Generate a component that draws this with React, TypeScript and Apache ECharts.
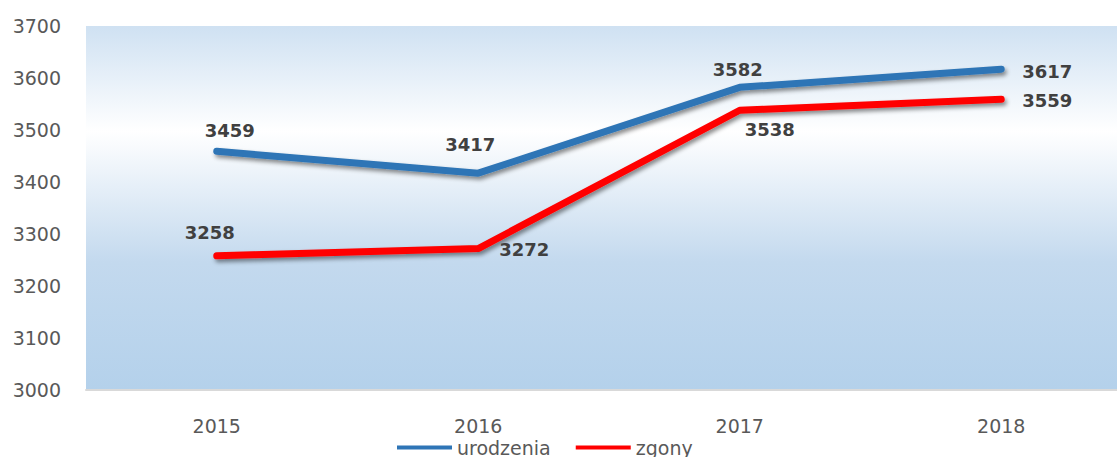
import React, { useEffect, useRef } from "react";
import * as echarts from "echarts";

const categories = ["2015", "2016", "2017", "2018"];
const urodzenia = [3459, 3417, 3582, 3617];
const zgony = [3258, 3272, 3538, 3559];
const yTicks = { min: 3000, max: 3700, interval: 100 };

// label offsets (style only)
const urodzeniaLabelOffsets = [[13, -21], [-8, -29], [-2, -18], [46, 2]];
const zgonyLabelOffsets = [[-7, -23], [46, 1], [30, 19], [46, 1]];

const labelStyle = {
  show: true,
  position: "inside",
  color: "#404040",
  fontFamily: "DejaVu Sans",
  fontWeight: "bold",
  fontSize: 18,
};

function build(values: number[], offsets: number[][]) {
  return values.map((v, i) => ({
    value: v,
    label: { ...labelStyle, offset: offsets[i] },
  }));
}

export default function App() {
  const ref = useRef<HTMLDivElement>(null);
  useEffect(() => {
    if (!ref.current) return;
    const chart = echarts.init(ref.current, undefined, { renderer: "svg" });
    const lineShadow = {
      shadowColor: "rgba(0,0,0,0.45)",
      shadowBlur: 4,
      shadowOffsetX: 2,
      shadowOffsetY: 3,
    };
    chart.setOption({
      animation: false,
      grid: {
        left: 86,
        width: 1046,
        top: 26,
        bottom: 67,
        outerBoundsMode: "none",
        containLabel: false,
        show: true,
        borderWidth: 0,
        backgroundColor: new echarts.graphic.LinearGradient(0, 0, 0, 1, [
          { offset: 0, color: "#cfe1f2" },
          { offset: 0.29, color: "#ffffff" },
          { offset: 0.65, color: "#c3d9ee" },
          { offset: 1, color: "#b4d1eb" },
        ]),
      },
      legend: {
        left: 392,
        top: 433,
        icon: "rect",
        itemWidth: 55,
        itemHeight: 4,
        itemGap: 25,
        textStyle: { color: "#595959", fontSize: 19, fontFamily: "DejaVu Sans" },
        data: ["urodzenia", "zgony"],
      },
      xAxis: {
        type: "category",
        data: categories,
        axisLine: { show: true, lineStyle: { color: "#d9d9d9", width: 2 } },
        axisTick: { show: false },
        axisLabel: {
          color: "#595959",
          fontSize: 19,
          fontFamily: "DejaVu Sans",
          margin: 26,
        },
      },
      yAxis: {
        type: "value",
        min: yTicks.min,
        max: yTicks.max,
        interval: yTicks.interval,
        axisLine: { show: false },
        axisTick: { show: false },
        splitLine: { show: false },
        axisLabel: {
          color: "#595959",
          fontSize: 19,
          fontFamily: "DejaVu Sans",
          margin: 25,
          formatter: (v: number) => String(v),
        },
      },
      series: [
        {
          name: "urodzenia",
          type: "line",
          data: build(urodzenia, urodzeniaLabelOffsets),
          symbol: "circle",
          symbolSize: 0,
          itemStyle: { color: "#2e75b6" },
          lineStyle: { color: "#2e75b6", width: 7, cap: "round", ...lineShadow },
        },
        {
          name: "zgony",
          type: "line",
          data: build(zgony, zgonyLabelOffsets),
          symbol: "circle",
          symbolSize: 0,
          itemStyle: { color: "#ff0000" },
          lineStyle: { color: "#ff0000", width: 7, cap: "round", ...lineShadow },
        },
      ],
    });
    return () => chart.dispose();
  }, []);
  return (
    <div
      ref={ref}
      style={{ position: "absolute", left: 0, top: 0, width: 1117, height: 457 }}
    />
  );
}
